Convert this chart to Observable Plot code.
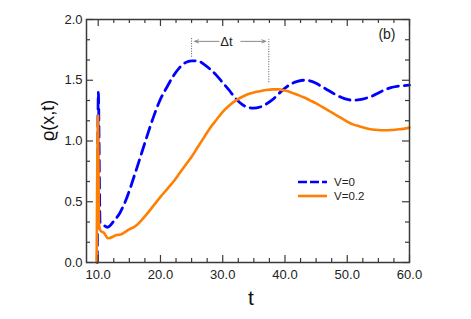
<!DOCTYPE html>
<html>
<head>
<meta charset="utf-8">
<script src="https://cdn.jsdelivr.net/npm/d3@7"></script>
<script src="https://cdn.jsdelivr.net/npm/@observablehq/plot@0.6"></script>
<style>
  html, body { margin: 0; padding: 0; background: #fff; }
  #wrap { position: relative; width: 471px; height: 319px; font-family: "Liberation Sans", Arial, Helvetica, sans-serif; }
  #legend { position: absolute; left: 0; top: 0; pointer-events: none; }
</style>
</head>
<body>
<div id="wrap"></div>
<script>
// ---- Data ----
const seriesNames = ["V=0", "V=0.2"];
const seriesColors = ["#0000ff", "#ff8000"];

const blueT = [9.85, 10.02, 10.3, 10.8, 11.5, 12.5, 13.5, 14.5, 15.2, 16.0, 17.0, 18.0, 19.0, 20.0,
  21.0, 22.0, 23.0, 24.0, 25.0, 26.0, 27.0, 28.0, 29.0, 30.0, 31.0, 32.0, 33.0, 34.0, 35.0, 36.0,
  37.0, 38.0, 39.0, 40.0, 41.0, 42.0, 43.0, 44.0, 45.0, 46.0, 47.0, 48.0, 49.0, 50.0, 51.0, 52.0,
  53.0, 54.0, 55.0, 56.0, 57.0, 58.0, 59.0, 60.0];
const blueRho = [0.0, 1.40, 0.33, 0.31, 0.29, 0.34, 0.41, 0.52, 0.62, 0.745, 0.905, 1.065, 1.215, 1.345,
  1.44, 1.53, 1.60, 1.645, 1.66, 1.66, 1.63, 1.59, 1.54, 1.48, 1.42, 1.355, 1.305, 1.278, 1.27, 1.28,
  1.305, 1.34, 1.39, 1.435, 1.47, 1.49, 1.50, 1.495, 1.475, 1.445, 1.415, 1.385, 1.36, 1.342, 1.335, 1.34,
  1.352, 1.37, 1.395, 1.42, 1.44, 1.45, 1.455, 1.46];

const orangeT = [9.75, 9.97, 10.12, 10.4, 10.9, 11.6, 12.3, 12.8, 13.6, 14.3, 14.9, 16.0, 17.0, 18.0,
  19.0, 20.0, 21.0, 22.0, 23.0, 24.0, 25.0, 26.0, 27.0, 28.0, 29.0, 30.0, 31.0, 32.0, 33.0, 34.0,
  35.0, 36.0, 37.0, 38.0, 39.0, 40.0, 41.0, 42.0, 43.0, 44.0, 45.0, 46.0, 47.0, 48.0, 49.0, 50.0,
  51.0, 52.0, 53.0, 54.0, 55.0, 56.0, 57.0, 58.0, 59.0, 60.0];
const orangeRho = [0.0, 1.21, 0.32, 0.26, 0.245, 0.2, 0.21, 0.225, 0.23, 0.25, 0.27, 0.30, 0.35, 0.41,
  0.475, 0.54, 0.60, 0.66, 0.73, 0.80, 0.87, 0.95, 1.03, 1.11, 1.175, 1.24, 1.29, 1.33, 1.36, 1.385,
  1.40, 1.41, 1.42, 1.425, 1.425, 1.415, 1.40, 1.38, 1.36, 1.335, 1.31, 1.28, 1.25, 1.22, 1.19, 1.16,
  1.135, 1.12, 1.105, 1.095, 1.09, 1.088, 1.09, 1.095, 1.10, 1.11];

// ticks
const xMajor = [10, 20, 30, 40, 50, 60];
const xMinor = [12.5, 15, 17.5, 22.5, 25, 27.5, 32.5, 35, 37.5, 42.5, 45, 47.5, 52.5, 55, 57.5];
const yMajor = [0, 0.5, 1.0, 1.5, 2.0];
const yMinor = [0.1667, 0.3333, 0.6667, 0.8333, 1.1667, 1.3333, 1.6667, 1.8333];

// Δt annotation (peak times)
const peakTimes = [25.0, 37.4];
const peakLineTop = [1.85, 1.835];
const peakLineBottom = [1.69, 1.48];
const dtArrowY = 1.82;
const dtArrowInner = [29.4, 32.9];
const dtArrowOuter = [25.5, 36.9];
const dtLabel = [{t: 30.6, rho: 1.82, text: "Δt"}];

// ---- Build ----
const blue = blueT.map((t, i) => ({t, rho: blueRho[i]}));
const orange = orangeT.map((t, i) => ({t, rho: orangeRho[i]}));
const peaks = peakTimes.map((t, i) => ({t, y1: peakLineBottom[i], y2: peakLineTop[i]}));
const arrows = dtArrowInner.map((x1, i) => ({x1, x2: dtArrowOuter[i]}));

const W = 471, H = 319, mL = 86, mR = 62, mT = 19, mB = 57;
const fh = H - mT - mB, fw = W - mL - mR;
const axisColor = "#3a3a3a";
const majLen = 7, minLen = 4;

const chart = Plot.plot({
  width: W, height: H,
  marginLeft: mL, marginRight: mR, marginTop: mT, marginBottom: mB,
  style: {fontFamily: '"Liberation Sans", Arial, Helvetica, sans-serif', fontSize: "13px", color: "#222", background: "#fff"},
  x: {domain: [8.12, 60]},
  y: {domain: [0, 2]},
  marks: [
    // curves
    Plot.line(blue, {x: "t", y: "rho", stroke: seriesColors[0], strokeWidth: 2.8, strokeDasharray: "11,6", strokeLinejoin: "round", curve: "monotone-x"}),
    Plot.line(orange, {x: "t", y: "rho", stroke: seriesColors[1], strokeWidth: 2.6, strokeLinejoin: "round", curve: "monotone-x"}),
    // annotation
    Plot.ruleX(peaks, {x: "t", y1: "y1", y2: "y2", stroke: "#555", strokeWidth: 1, strokeDasharray: "1,1.5"}),
    Plot.arrow(arrows, {x1: "x1", x2: "x2", y1: dtArrowY, y2: dtArrowY, stroke: "#888", strokeWidth: 1, headLength: 6, headAngle: 45}),
    Plot.text(dtLabel, {x: "t", y: "rho", text: "text", fontSize: 13, fill: "#222"}),
    Plot.text(["(b)"], {frameAnchor: "top-right", dx: -14, dy: 10, fontSize: 14, fill: "#222", textAnchor: "end"}),
    // ticks inward on all four sides
    Plot.tickX(xMajor, {x: d => d, insetTop: fh - majLen, stroke: axisColor, strokeWidth: 1.2}),
    Plot.tickX(xMajor, {x: d => d, insetBottom: fh - majLen, stroke: axisColor, strokeWidth: 1.2}),
    Plot.tickX(xMinor, {x: d => d, insetTop: fh - minLen, stroke: axisColor, strokeWidth: 1.2}),
    Plot.tickX(xMinor, {x: d => d, insetBottom: fh - minLen, stroke: axisColor, strokeWidth: 1.2}),
    Plot.tickY(yMajor, {y: d => d, insetRight: fw - majLen, stroke: axisColor, strokeWidth: 1.2}),
    Plot.tickY(yMajor, {y: d => d, insetLeft: fw - majLen, stroke: axisColor, strokeWidth: 1.2}),
    Plot.tickY(yMinor, {y: d => d, insetRight: fw - minLen, stroke: axisColor, strokeWidth: 1.2}),
    Plot.tickY(yMinor, {y: d => d, insetLeft: fw - minLen, stroke: axisColor, strokeWidth: 1.2}),
    // tick labels
    Plot.axisX({ticks: xMajor, tickSize: 0, tickPadding: 7, tickFormat: d3.format(".1f"), label: null, fontSize: 13}),
    Plot.axisY({ticks: yMajor, tickSize: 0, tickPadding: 4, tickFormat: d3.format(".1f"), label: null, fontSize: 13}),
    // axis titles
    Plot.text(["t"], {frameAnchor: "bottom", dx: 3, dy: 42, fontSize: 21, fill: "#111"}),
    Plot.text(["ϱ(x,t)"], {frameAnchor: "left", dx: -38, rotate: -90, fontSize: 18, fill: "#111"}),
    Plot.frame({stroke: axisColor, strokeWidth: 1.5})
  ]
});

const wrap = document.getElementById("wrap");
wrap.appendChild(chart);

// legend overlay
const ns = "http://www.w3.org/2000/svg";
const leg = document.createElementNS(ns, "svg");
leg.setAttribute("id", "legend");
leg.setAttribute("width", W);
leg.setAttribute("height", H);
const legendItems = [
  {name: seriesNames[0], color: seriesColors[0], dash: "9,3", y: 182},
  {name: seriesNames[1], color: seriesColors[1], dash: null, y: 196}
];
for (const it of legendItems) {
  const l = document.createElementNS(ns, "line");
  l.setAttribute("x1", 298); l.setAttribute("x2", 327);
  l.setAttribute("y1", it.y); l.setAttribute("y2", it.y);
  l.setAttribute("stroke", it.color); l.setAttribute("stroke-width", 2.6);
  if (it.dash) l.setAttribute("stroke-dasharray", it.dash);
  leg.appendChild(l);
  const t = document.createElementNS(ns, "text");
  t.setAttribute("x", 334); t.setAttribute("y", it.y);
  t.setAttribute("dy", "0.35em");
  t.setAttribute("font-size", 11.5);
  t.setAttribute("font-family", '"Liberation Sans", Arial, Helvetica, sans-serif');
  t.setAttribute("fill", "#222");
  t.textContent = it.name;
  leg.appendChild(t);
}
wrap.appendChild(leg);
</script>
</body>
</html>
